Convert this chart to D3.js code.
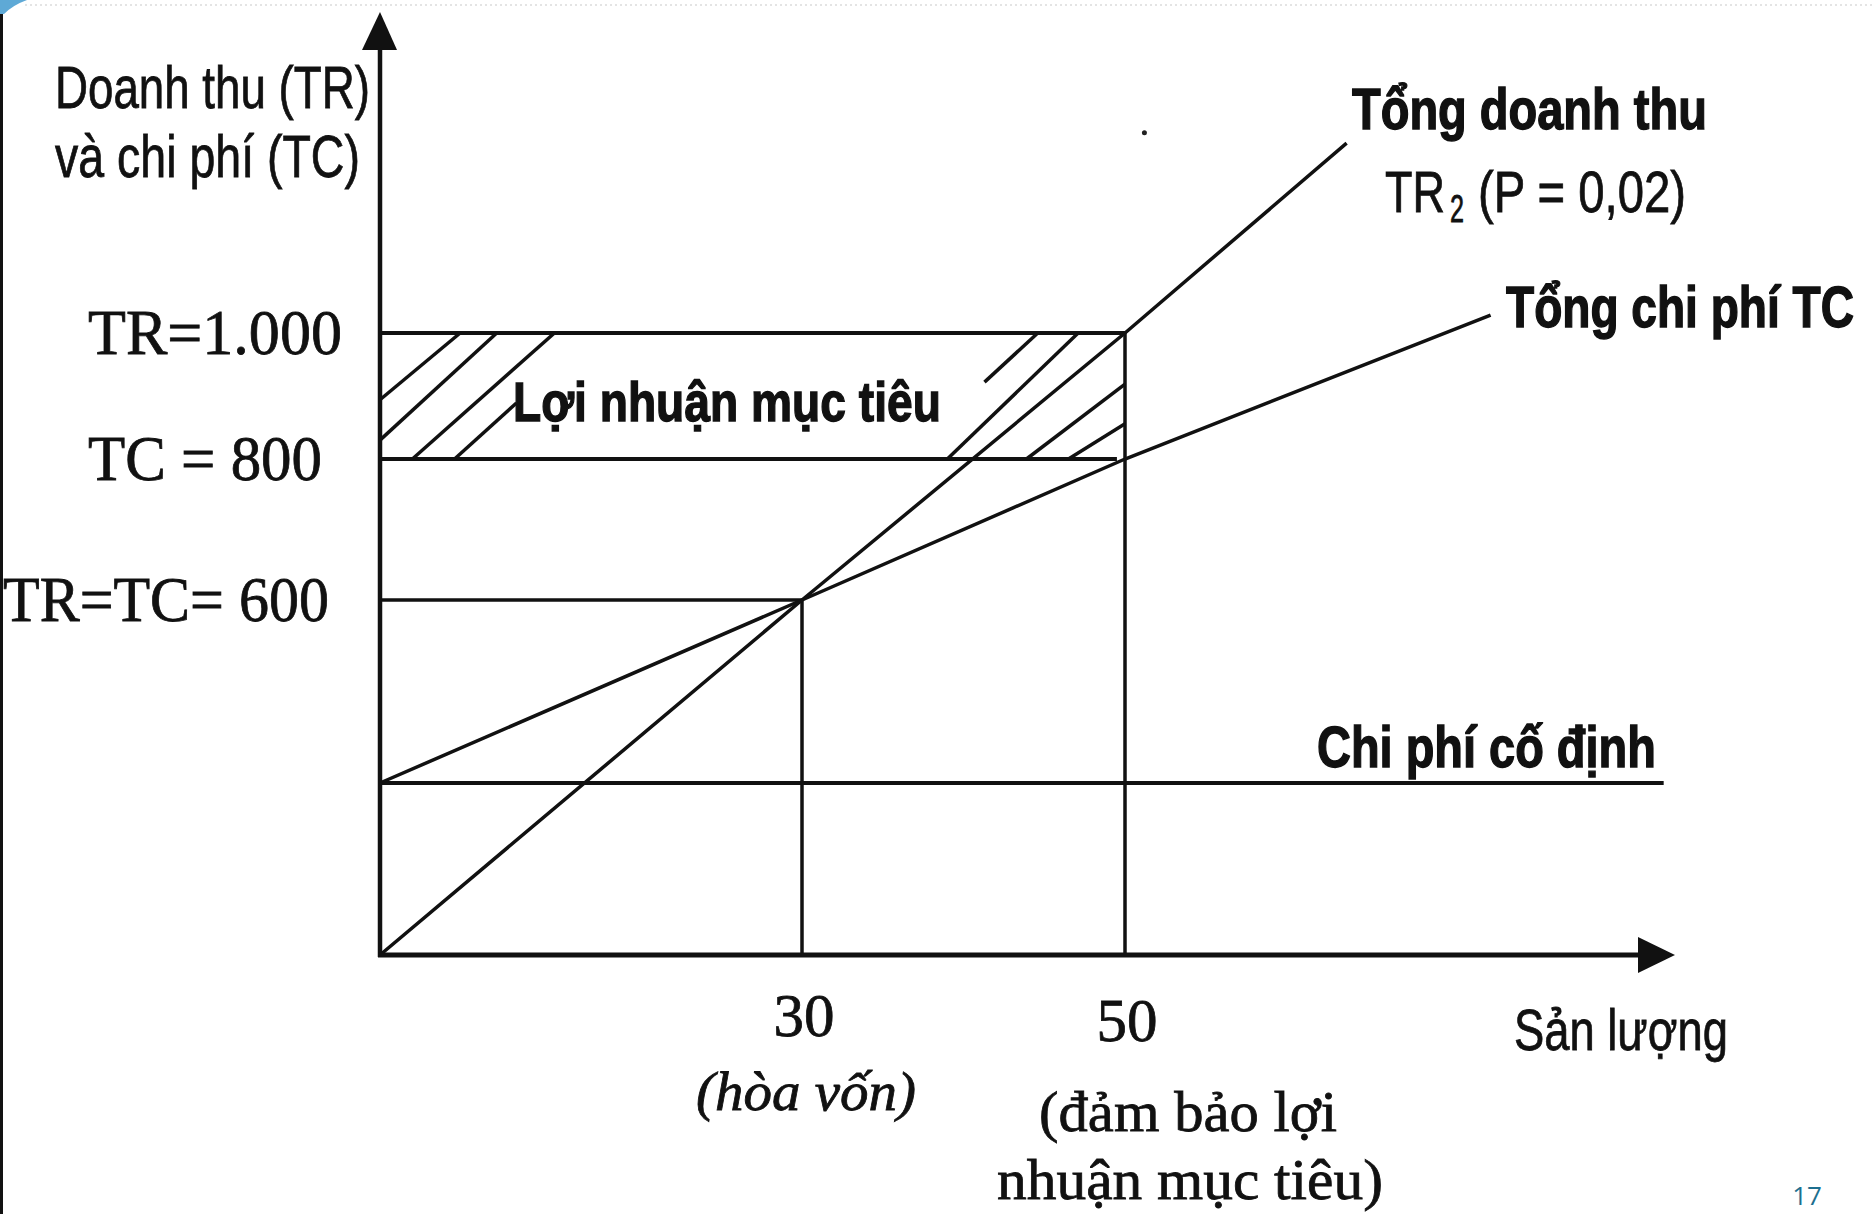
<!DOCTYPE html>
<html>
<head>
<meta charset="utf-8">
<script src="https://cdn.jsdelivr.net/npm/d3@7"></script>
<style>
  html, body { margin: 0; padding: 0; background: #fff; }
  .serif { font-family: "Liberation Serif", "Times New Roman", serif; fill: #111; stroke: #111; stroke-width: 0.8; }
  .sans { font-family: "Liberation Sans Narrow", "Liberation Sans", Arial, sans-serif; fill: #111; stroke: #111; stroke-width: 0.8; }
  .sans.bold { stroke-width: 1.4; font-weight: bold; }
</style>
</head>
<body>
<svg id="chart" width="1872" height="1214"></svg>
<script>
// --- DATA ---
// quantity (Sản lượng) and value (TR / TC)
const trQuantity = [0, 30, 50, 63.7];
const trValue = [0, 600, 1000, 1275];
const tcQuantity = [0, 30, 50, 72.6];
const tcValue = [300, 600, 800, 1026];
const fixedQuantity = [0, 83.3];
const fixedValue = [300, 300];

const valueTicks = [600, 800, 1000];
const valueTickLabels = ["TR=TC= 600", "TC = 800", "TR=1.000"];
const quantityTicks = [30, 50];
const quantityNotes = [["(hòa vốn)"], ["(đảm bảo lợi", "nhuận mục tiêu)"]];

const targetQuantity = 50;   // target profit box: 0..50, 800..1000
const targetLow = 800;
const targetHigh = 1000;
const breakEvenQuantity = 30;
const breakEvenValue = 600;

const svg = d3.select("#chart");

// hand drawn axes are not evenly spaced, so the scales are piecewise
const x = d3.scaleLinear()
    .domain([0, 30, 50, 84])
    .range([380, 802, 1125, 1675]);
const y = d3.scaleLinear()
    .domain([0, 300, 600, 800, 1000, 1465])
    .range([955, 783, 600, 459, 333, 12]);

const line = d3.line().x(d => x(d[0])).y(d => y(d[1]));
const zip = (a, b) => a.map((v, i) => [v, b[i]]);

// squeeze a text horizontally to the width it has in the scan
function label(parent, cls, txt, x0, y0, len, size, anchor, italic) {
    const g = parent.append("g").attr("transform", `translate(${x0},${y0})`);
    const t = g.append("text")
        .attr("class", cls)
        .attr("font-size", size)
        .attr("text-anchor", anchor || "start")
        .attr("font-style", italic ? "italic" : "normal")
        .text(txt);
    const w = t.node().getComputedTextLength();
    t.attr("transform", `scale(${len / w},1)`);
    return t;
}

// --- slide decoration ---
svg.append("rect").attr("width", 1872).attr("height", 1214).attr("fill", "#fff");
svg.append("line")
    .attr("x1", 25).attr("x2", 1872).attr("y1", 5).attr("y2", 5)
    .attr("stroke", "#e4e4e4").attr("stroke-width", 2).attr("stroke-dasharray", "2,3");
svg.append("rect").attr("x", 0).attr("y", 10).attr("width", 3).attr("height", 1204).attr("fill", "#111");
svg.append("path").attr("d", "M0,0 L27,0 Q13,5 4,14 L0,14 Z").attr("fill", "#5ea9d6");
svg.append("text")
    .attr("x", 1807).attr("y", 1205)
    .attr("text-anchor", "middle")
    .attr("font-family", "'Open Sans', 'Liberation Sans', sans-serif")
    .attr("font-size", 26).attr("fill", "#1d6f8f")
    .text("17");

// --- HATCHED TARGET PROFIT BOX ---
const hatch = [
    [[0, 894], [5.7, 1000]],
    [[0, 830], [8.3, 1000]],
    [[2.3, 800], [12.4, 1000]],
    [[5.3, 800], [9.7, 889]],
    [[41.3, 922], [44.6, 1000]],
    [[39.0, 800], [47.1, 1000]],
    [[43.9, 800], [50, 919]],
    [[46.5, 800], [50, 856]]
];
svg.append("g")
    .selectAll("path")
    .data(hatch)
    .join("path")
    .attr("d", line)
    .attr("fill", "none")
    .attr("stroke", "#111")
    .attr("stroke-width", 3.5);

const guides = svg.append("g").attr("stroke", "#111").attr("fill", "none");
// TR = 1000 and TC = 800 edges
guides.append("path").attr("d", line([[0, targetHigh], [targetQuantity, targetHigh]])).attr("stroke-width", 4);
guides.append("path").attr("d", line([[0, targetLow], [targetQuantity - 0.5, targetLow]])).attr("stroke-width", 4);
// break-even guides
guides.append("path").attr("d", line([[0, breakEvenValue], [breakEvenQuantity, breakEvenValue]])).attr("stroke-width", 3.5);
guides.append("path").attr("d", line([[breakEvenQuantity, breakEvenValue], [breakEvenQuantity, 0]])).attr("stroke-width", 3.5);
guides.append("path").attr("d", line([[targetQuantity, targetHigh], [targetQuantity, 0]])).attr("stroke-width", 3.5);

// --- CURVES ---
const curves = svg.append("g").attr("fill", "none").attr("stroke", "#111");
curves.append("path").attr("d", line(zip(fixedQuantity, fixedValue))).attr("stroke-width", 4);
curves.append("path").attr("d", line(zip(tcQuantity, tcValue))).attr("stroke-width", 3.5);
curves.append("path").attr("d", line(zip(trQuantity, trValue))).attr("stroke-width", 3.5);

// stray mark from the scan
svg.append("circle").attr("cx", x(51.2)).attr("cy", y(1290)).attr("r", 2.5).attr("fill", "#222");

// --- AXES ---
const axes = svg.append("g").attr("stroke", "#111").attr("fill", "#111");
const x0 = x(0), y0 = y(0), yTop = y(1465), xEnd = x(84);
axes.append("line").attr("x1", x0).attr("x2", x0).attr("y1", y0 + 2).attr("y2", yTop + 30).attr("stroke-width", 4.5);
axes.append("line").attr("x1", x0 - 2).attr("x2", xEnd - 30).attr("y1", y0).attr("y2", y0).attr("stroke-width", 5);
axes.append("path").attr("stroke", "none")
    .attr("d", `M${x0},${yTop} L${x0 + 17},${yTop + 38} L${x0 - 18},${yTop + 38} Z`);
axes.append("path").attr("stroke", "none")
    .attr("d", `M${xEnd},${y0} L${xEnd - 37},${y0 - 18} L${xEnd - 37},${y0 + 18} Z`);

// --- Y TICK LABELS ---
const yLabelLayout = [
    { x: 3, len: 326 },
    { x: 88, len: 234 },
    { x: 88, len: 254 }
];
const yLabels = svg.append("g");
valueTicks.forEach((v, i) => {
    label(yLabels, "serif", valueTickLabels[i], yLabelLayout[i].x, y(v) + 21, yLabelLayout[i].len, 64);
});

// --- X TICK LABELS ---
const xLabels = svg.append("g");
quantityTicks.forEach((q, i) => {
    label(xLabels, "serif", String(q), x(q) + 2, 1036 + i * 5, 61, 62, "middle");
});
label(xLabels, "serif", quantityNotes[0][0], x(quantityTicks[0]) + 4, 1110, 220, 54, "middle", true);
quantityNotes[1].forEach((t, i) => {
    label(xLabels, "serif", t, x(quantityTicks[1]) + 63 + i * 2, 1131 + i * 68, [298, 386][i], 58, "middle");
});

// --- AXIS TITLES AND CURVE LABELS ---
const titles = svg.append("g");
label(titles, "sans", "Doanh thu (TR)", 55, 108, 315, 60);
label(titles, "sans", "và chi phí (TC)", 55, 177, 305, 60);
label(titles, "sans", "Sản lượng", 1514, 1050, 214, 58);
label(titles, "sans bold", "Lợi nhuận mục tiêu", 513, 421, 428, 56);
label(titles, "sans bold", "Tổng doanh thu", 1352, 129, 355, 58);
label(titles, "sans bold", "Tổng chi phí TC", 1506, 327, 348, 58);
label(titles, "sans bold", "Chi phí cố định", 1317, 767, 339, 58);

// TR₂ (P = 0,02): subscript drawn as its own text
label(titles, "sans", "TR", 1385, 212, 60, 58);
label(titles, "sans", "2", 1450, 222, 14, 38);
label(titles, "sans", "(P = 0,02)", 1478, 212, 208, 58);
</script>
</body>
</html>
